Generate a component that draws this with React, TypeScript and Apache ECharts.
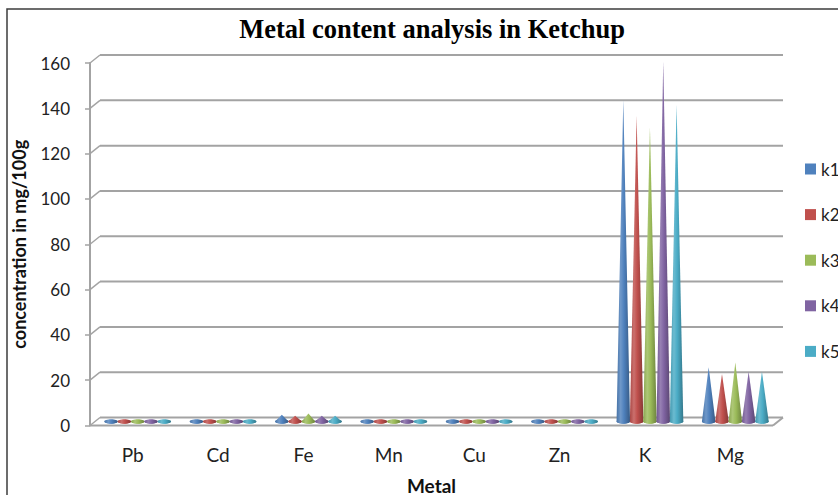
import React, { useEffect, useRef } from "react";
import * as echarts from "echarts";

// Metals measured and the five ketchup samples (mg/100g)
const categories = ["Pb", "Cd", "Fe", "Mn", "Cu", "Zn", "K", "Mg"];
const k1 = [0.1, 0.1, 3.0, 0.1, 0.1, 0.1, 142, 24];
const k2 = [0.1, 0.1, 2.5, 0.1, 0.1, 0.1, 135, 21];
const k3 = [0.1, 0.1, 3.5, 0.1, 0.1, 0.1, 130, 26];
const k4 = [0.1, 0.1, 2.5, 0.1, 0.1, 0.1, 159, 22];
const k5 = [0.1, 0.1, 2.5, 0.1, 0.1, 0.1, 140, 22];
const sampleNames = ["k1", "k2", "k3", "k4", "k5"];
const sampleValues = [k1, k2, k3, k4, k5];
const sampleColors = ["#4F81BD", "#C0504D", "#9BBB59", "#8064A2", "#4BACC6"];
const yTicks = [0, 20, 40, 60, 80, 100, 120, 140, 160];

// depth offset of the back wall relative to the front plane (px)
const DEPTH_X = 10;
const DEPTH_Y = -8;
const FRAME_COLOR = "#a3a3a3";
const SANS = "Lato, 'Open Sans', sans-serif";

function mix(hex: string, target: number, t: number): string {
  const n = parseInt(hex.slice(1), 16);
  const ch = [(n >> 16) & 255, (n >> 8) & 255, n & 255].map((c) =>
    Math.round(c + (target - c) * t)
  );
  return "rgb(" + ch.join(",") + ")";
}

function coneGradient(color: string) {
  return new echarts.graphic.LinearGradient(0, 0, 1, 0, [
    { offset: 0, color: mix(color, 0, 0.12) },
    { offset: 0.3, color: mix(color, 255, 0.18) },
    { offset: 0.55, color: color },
    { offset: 1, color: mix(color, 0, 0.3) },
  ]);
}

export default function App() {
  const ref = useRef<HTMLDivElement>(null);

  useEffect(() => {
    if (!ref.current) return;
    const chart = echarts.init(ref.current, undefined, { renderer: "svg" });

    const frameSeries = {
      type: "custom",
      name: "frame",
      silent: true,
      z: 1,
      data: yTicks.map((v) => [0, v]),
      renderItem: (params: any, api: any) => {
        const cs = params.coordSys;
        const v = api.value(1);
        const y = api.coord([0, v])[1];
        const left = cs.x;
        const right = cs.x + cs.width;
        const style = { stroke: FRAME_COLOR, lineWidth: 2, fill: "none" };
        const children: any[] = [
          {
            type: "line",
            shape: { x1: left + DEPTH_X, y1: y + DEPTH_Y, x2: right + DEPTH_X, y2: y + DEPTH_Y },
            style,
          },
          {
            type: "line",
            shape: { x1: left, y1: y, x2: left + DEPTH_X, y2: y + DEPTH_Y },
            style: { ...style, lineWidth: 1.5 },
          },
        ];
        if (v === 0) {
          children.push(
            { type: "line", shape: { x1: left, y1: y, x2: right, y2: y }, style },
            {
              type: "line",
              shape: { x1: right, y1: y, x2: right + DEPTH_X, y2: y + DEPTH_Y },
              style,
            }
          );
        }
        return { type: "group", children };
      },
    };

    const coneSeries = sampleNames.map((name, slot) => ({
      type: "custom",
      name,
      z: 3,
      itemStyle: { color: sampleColors[slot] },
      data: categories.map((_, i) => [i, sampleValues[slot][i]]),
      renderItem: (params: any, api: any) => {
        const idx = api.value(0);
        const val = api.value(1);
        const bw = api.size([1, 0])[0];
        const base = api.coord([idx, 0]);
        const top = api.coord([idx, val]);
        const spacing = bw * 0.156;
        const rx = (bw * 0.158) / 2;
        const ry = 2.2;
        const x = base[0] + (slot - 2) * spacing + DEPTH_X / 2;
        const y0 = base[1] + DEPTH_Y / 2;
        const yt = top[1] + DEPTH_Y / 2;
        const fill = coneGradient(sampleColors[slot]);
        return {
          type: "group",
          children: [
            {
              type: "ellipse",
              shape: { cx: x, cy: y0, rx, ry },
              style: { fill },
            },
            {
              type: "path",
              shape: {
                pathData: `M${x - rx},${y0} L${x},${yt} L${x + rx},${y0} A${rx},${ry} 0 0 1 ${x - rx},${y0} Z`,
              },
              style: { fill },
            },
          ],
        };
      },
    }));

    chart.setOption({
      animation: false,
      backgroundColor: "#ffffff",
      title: {
        text: "Metal content analysis in Ketchup",
        left: 427,
        textAlign: "center",
        top: 10,
        textStyle: {
          fontFamily: "'Liberation Serif', 'Times New Roman', serif",
          fontWeight: "bold",
          fontSize: 26.5,
          color: "#000",
        },
      },
      legend: {
        data: sampleNames,
        orient: "vertical",
        left: 800,
        top: 154,
        icon: "rect",
        itemWidth: 11,
        itemHeight: 11,
        itemGap: 25.6,
        textStyle: { fontFamily: SANS, fontSize: 17, color: "#222", lineHeight: 20 },
      },
      graphic: [
        {
          type: "rect",
          shape: { x: 7, y: 9, width: 900, height: 600 },
          style: { fill: "none", stroke: "#3c3c3c", lineWidth: 1.5 },
          z: -1,
          silent: true,
        },
      ],
      grid: { left: 90, right: 65, top: 63, bottom: 69.5, outerBoundsMode: "none" },
      xAxis: {
        type: "category",
        data: categories,
        axisLine: { show: false },
        axisTick: { show: false },
        axisLabel: { margin: 19, fontFamily: SANS, fontSize: 19, color: "#222" },
        name: "Metal",
        nameLocation: "middle",
        nameGap: 50,
        nameTextStyle: {
          fontFamily: SANS,
          fontSize: 19,
          lineHeight: 19,
          fontWeight: "bold",
          color: "#111",
        },
      },
      yAxis: {
        type: "value",
        min: 0,
        max: 160,
        interval: 20,
        axisLine: { show: true, lineStyle: { color: FRAME_COLOR, width: 2 } },
        axisTick: { show: true, length: 5, lineStyle: { color: FRAME_COLOR, width: 1.5 } },
        splitLine: { show: false },
        axisLabel: { margin: 20, fontFamily: SANS, fontSize: 17, color: "#222" },
        name: "concentration in mg/100g",
        nameLocation: "middle",
        nameRotate: 90,
        nameGap: 62,
        nameTextStyle: { fontFamily: SANS, fontSize: 18, fontWeight: "bold", color: "#111" },
      },
      series: [frameSeries, ...coneSeries],
    });

    return () => chart.dispose();
  }, []);

  return (
    <div
      ref={ref}
      style={{ position: "fixed", left: 0, top: 0, width: 838, height: 495 }}
    />
  );
}
